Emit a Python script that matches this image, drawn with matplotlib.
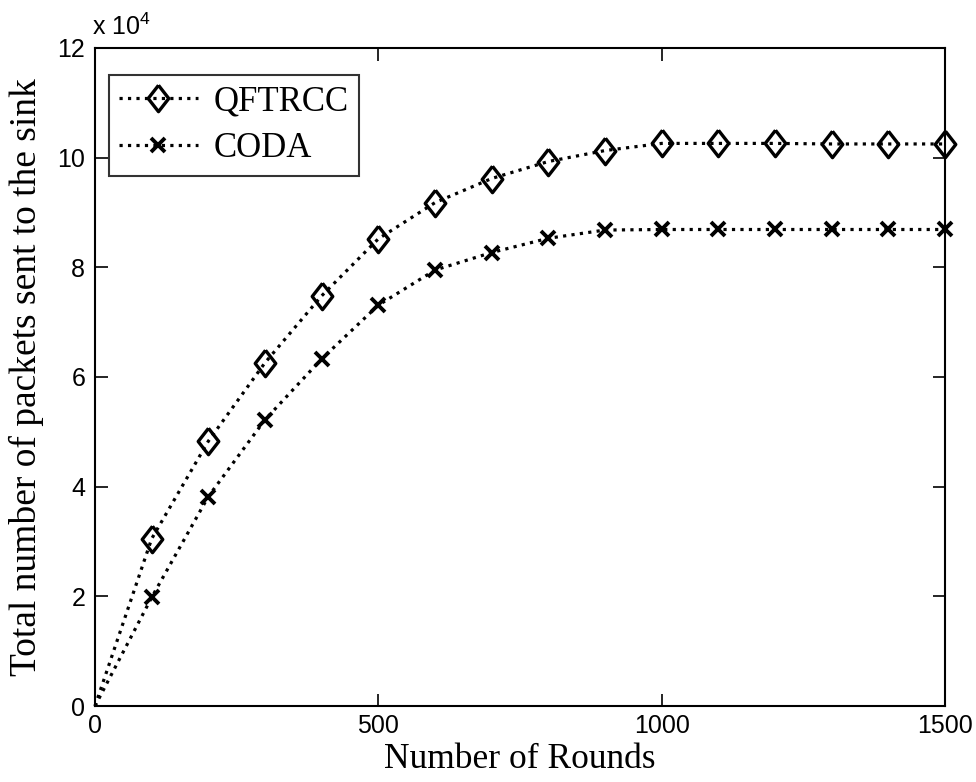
import matplotlib
matplotlib.use("Agg")
import matplotlib.pyplot as plt
from matplotlib.ticker import FixedLocator

rounds = [0, 100, 200, 300, 400, 500, 600, 700, 800, 900, 1000, 1100, 1200, 1300, 1400, 1500]
qftrcc = [0, 3.05, 4.83, 6.26, 7.48, 8.52, 9.18, 9.62, 9.93, 10.13, 10.26, 10.26, 10.26, 10.25, 10.25, 10.25]
coda = [0, 1.98, 3.82, 5.22, 6.33, 7.31, 7.95, 8.27, 8.53, 8.68, 8.69, 8.69, 8.69, 8.69, 8.69, 8.69]
scale = 1e4
xticks = [0, 500, 1000, 1500]
yticks = [0, 2, 4, 6, 8, 10, 12]

diamond = [(0, 1.0), (0.78, 0), (0, -1.0), (-0.78, 0), (0, 1.0)]

fig = plt.figure(figsize=(9.76, 7.82), dpi=100)
ax = fig.add_axes([95/976, 1-706/782, 850/976, 658/782])

marks = list(range(1, len(rounds)))
ax.plot(rounds, [v*scale for v in qftrcc], color='black', linestyle=':', linewidth=2.3,
        marker=diamond, markersize=19, markerfacecolor='none', markeredgewidth=2.4,
        markeredgecolor='black', label='QFTRCC', markevery=marks, clip_on=False)
ax.plot(rounds, [v*scale for v in coda], color='black', linestyle=':', linewidth=2.3,
        marker='x', markersize=10.5, markeredgewidth=2.8,
        label='CODA', markevery=marks, clip_on=False)

ax.set_xlim(0, 1500)
ax.set_ylim(0, 12*scale)
ax.xaxis.set_major_locator(FixedLocator(xticks))
ax.yaxis.set_major_locator(FixedLocator([t*scale for t in yticks]))
ax.set_xticklabels([str(t) for t in xticks], fontfamily='Liberation Sans', fontsize=18)
ax.set_yticklabels([str(t) for t in yticks], fontfamily='Liberation Sans', fontsize=18)
ax.tick_params(axis='y', direction='in', length=9, width=1.2, right=True, pad=7)
ax.tick_params(axis='x', direction='in', length=9, width=1.2, top=True, pad=6)
for s in ax.spines.values():
    s.set_linewidth(1.5)

ax.text(-3/850, 1 + 13/658, r'x 10$^{\mathregular{4}}$', transform=ax.transAxes,
        fontfamily='Liberation Sans', fontsize=18, ha='left', va='baseline')

ax.set_xlabel('Number of Rounds', fontfamily='Liberation Serif', fontsize=25.5, labelpad=3)
ax.set_ylabel('Total number of packets sent to the sink', fontfamily='Liberation Serif',
              fontsize=27, labelpad=10)

leg = ax.legend(loc='upper left', bbox_to_anchor=(14/850, 1-27/658), borderaxespad=0,
                frameon=True, fancybox=False, edgecolor='black',
                prop={'family': 'Liberation Serif', 'size': 25},
                handlelength=2.25, borderpad=0.3, labelspacing=0.4, handletextpad=0.45)
leg.get_frame().set_linewidth(1.5)

fig.savefig('out.png', dpi=100)
